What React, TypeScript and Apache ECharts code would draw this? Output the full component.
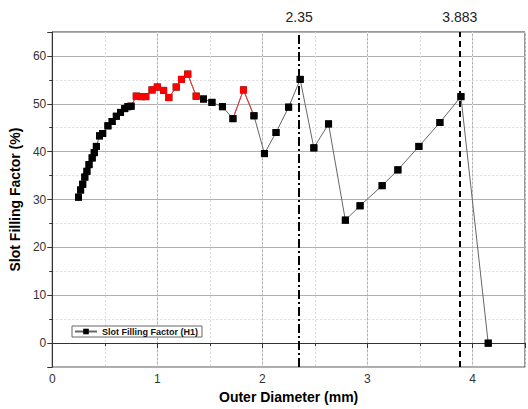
import React, { useEffect, useRef } from 'react';
import * as echarts from 'echarts';

const diameters = [
  0.25, 0.27, 0.29, 0.31, 0.33, 0.35, 0.38, 0.40, 0.42, 0.45, 0.48, 0.53, 0.57, 0.61, 0.65, 0.69, 0.72, 0.75,
  0.80, 0.85, 0.89, 0.95, 1.00, 1.06, 1.11, 1.18, 1.23, 1.29, 1.37,
  1.44, 1.52, 1.62, 1.72, 1.82, 1.92, 2.02, 2.13, 2.25, 2.36, 2.49, 2.63, 2.79, 2.93, 3.14, 3.29, 3.49, 3.69, 3.89, 4.15,
];
const fillFactors = [
  30.5, 32.0, 33.2, 34.7, 35.9, 37.3, 38.7, 39.8, 41.1, 43.3, 43.8, 45.4, 46.3, 47.4, 48.2, 49.0, 49.4, 49.5,
  51.6, 51.5, 51.5, 52.9, 53.5, 52.8, 51.3, 53.5, 55.1, 56.2, 51.6,
  51.0, 50.3, 49.4, 46.9, 52.9, 47.5, 39.6, 44.0, 49.3, 55.1, 40.8, 45.8, 25.7, 28.7, 32.9, 36.2, 41.1, 46.1, 51.5, 0,
];
const redIndices = [18, 19, 20, 21, 22, 23, 24, 25, 26, 27, 28, 33];
const markPositions = [2.35, 3.883];
const markLabels = ['2.35', '3.883'];
const seriesName = 'Slot Filling Factor (H1)';

export default function App() {
  const ref = useRef<HTMLDivElement>(null);
  useEffect(() => {
    const chart = echarts.init(ref.current!, null, { renderer: 'svg' });
    const redSet = new Set(redIndices);
    const points = diameters.map((x, i) => [x, fillFactors[i]]);
    const redLine: any[] = [];
    let prevIncluded = -2;
    diameters.forEach((_, i) => {
      const include = redSet.has(i) || redSet.has(i - 1) || redSet.has(i + 1);
      if (include) {
        if (prevIncluded !== i - 1 && redLine.length) redLine.push([null, null]);
        redLine.push(points[i]);
        prevIncluded = i;
      }
    });
    const scatterData = points.map((p, i) => ({
      value: p,
      itemStyle: { color: redSet.has(i) ? '#ff0000' : '#000000', opacity: 1 },
    }));
    const font = 'Liberation Sans, Arial, sans-serif';
    chart.setOption({
      animation: false,
      backgroundColor: '#ffffff',
      textStyle: { fontFamily: font },
      grid: { left: 52, right: 2, top: 32, bottom: 41, show: true, borderColor: '#333', borderWidth: 1 },
      legend: {
        data: [seriesName],
        left: 72,
        top: 326,
        backgroundColor: '#fff',
        borderColor: '#666',
        borderWidth: 1,
        borderRadius: 0,
        padding: [1, 4, 1, 2],
        itemWidth: 22,
        itemHeight: 7,
        itemGap: 4,
        textStyle: { fontSize: 9, fontWeight: 'bold', color: '#111', fontFamily: font },
      },
      xAxis: [
        {
          type: 'value', min: 0, max: 4.5, interval: 1, position: 'bottom',
          name: 'Outer Diameter (mm)', nameLocation: 'middle', nameGap: 22,
          nameTextStyle: { fontSize: 14, fontWeight: 'bold', color: '#000', fontFamily: font },
          axisLine: { show: true, lineStyle: { color: '#333', width: 1 } },
          axisTick: { show: true, inside: false, length: 5, lineStyle: { color: '#333' } },
          axisLabel: { fontSize: 12, color: '#333', margin: 6, formatter: (v: number) => (v % 1 === 0 ? String(v) : '') },
          splitLine: { show: true, lineStyle: { color: '#b0b0b0', width: 1 } },
        },
        {
          type: 'value', min: 0, max: 4.5, interval: 0.5, position: 'bottom',
          axisLine: { show: false },
          axisTick: { show: true, inside: false, length: 3, lineStyle: { color: '#333' } },
          axisLabel: { show: false },
          splitLine: { show: true, lineStyle: { color: '#dcdcdc', width: 1, type: [2, 2] } },
        },
      ],
      yAxis: [
        {
          type: 'value', min: -5, max: 65, interval: 5, position: 'left',
          axisLine: { show: false },
          axisTick: { show: true, inside: false, length: 3, lineStyle: { color: '#333' } },
          axisLabel: { show: false },
          splitLine: { show: true, lineStyle: { color: '#dcdcdc', width: 1, type: [2, 2] } },
        },
        {
          type: 'value', min: -5, max: 65, splitNumber: 7, position: 'left',
          name: 'Slot Filling Factor (%)', nameLocation: 'middle', nameGap: 28,
          nameTextStyle: { fontSize: 14, fontWeight: 'bold', color: '#000', fontFamily: font },
          axisLine: { show: true, lineStyle: { color: '#333', width: 1 } },
          axisTick: { show: true, inside: false, length: 5, lineStyle: { color: '#333' } },
          axisLabel: { fontSize: 12, color: '#333', margin: 6, formatter: (v: number) => (v % 10 === 0 ? String(v) : '') },
          splitLine: { show: true, lineStyle: { color: '#b0b0b0', width: 1 } },
        },
      ],
      series: [
        {
          name: seriesName,
          type: 'line',
          xAxisIndex: 0,
          yAxisIndex: 1,
          data: points,
          symbol: 'rect',
          symbolSize: 7,
          itemStyle: { color: '#000' },
          lineStyle: { color: '#666', width: 1 },
          z: 2,
          markLine: {
            silent: true,
            symbol: 'none',
            data: markPositions.map((x, i) => ({
              xAxis: x,
              lineStyle: { color: '#000', width: 2, type: i === 0 ? [9, 3, 2, 3] : [6, 4] },
              label: { show: true, position: 'end', formatter: markLabels[i], fontSize: 14, color: '#222', distance: 8 },
            })),
          },
        },
        {
          name: 'red',
          type: 'line',
          xAxisIndex: 0,
          yAxisIndex: 1,
          data: redLine,
          symbol: 'none',
          connectNulls: false,
          lineStyle: { color: '#ff3030', width: 1 },
          z: 3,
        },
        {
          name: 'pts',
          type: 'scatter',
          xAxisIndex: 0,
          yAxisIndex: 1,
          data: scatterData,
          symbol: 'rect',
          symbolSize: 7,
          z: 4,
        },
      ],
    });
    return () => chart.dispose();
  }, []);
  return <div ref={ref} style={{ width: 528, height: 409, position: 'absolute', left: 0, top: 0 }} />;
}
